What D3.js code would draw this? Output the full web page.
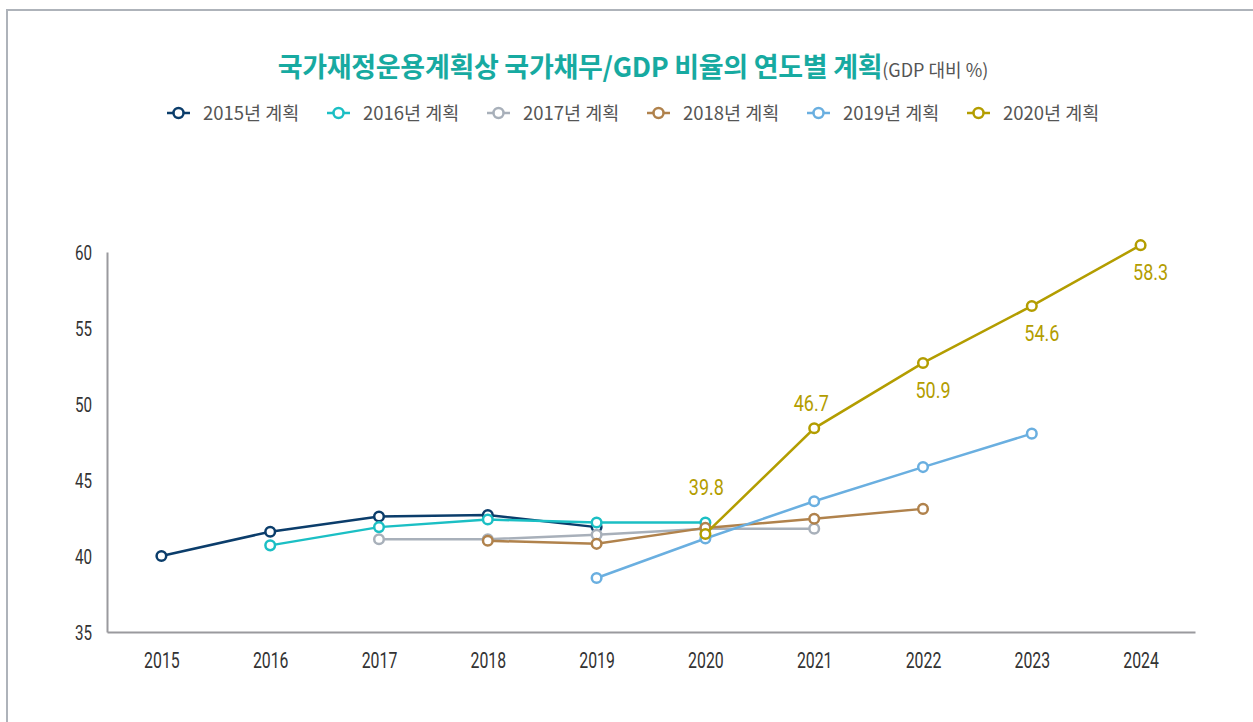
<!DOCTYPE html>
<html>
<head>
<meta charset="utf-8">
<script src="https://cdn.jsdelivr.net/npm/d3@7"></script>
<style>
  body { margin: 0; background: #fff; }
  svg { display: block; }
  .tick line { display: none; }
</style>
</head>
<body>
<div id="chart"></div>
<script>
// years on the x axis
var years = ["2015", "2016", "2017", "2018", "2019", "2020", "2021", "2022", "2023", "2024"];
var yTicks = [35, 40, 45, 50, 55, 60];

// series names (legend) and plotted values
var seriesNames = ["2015년 계획", "2016년 계획", "2017년 계획", "2018년 계획", "2019년 계획", "2020년 계획"];
var plan2015 = [["2015", 40.0], ["2016", 41.6], ["2017", 42.6], ["2018", 42.7], ["2019", 41.9]];
var plan2016 = [["2016", 40.7], ["2017", 41.9], ["2018", 42.4], ["2019", 42.2], ["2020", 42.2]];
var plan2017 = [["2017", 41.1], ["2018", 41.1], ["2019", 41.4], ["2020", 41.8], ["2021", 41.8]];
var plan2018 = [["2018", 41.0], ["2019", 40.8], ["2020", 41.85], ["2021", 42.45], ["2022", 43.1]];
var plan2019 = [["2019", 38.55], ["2020", 41.15], ["2021", 43.6], ["2022", 45.85], ["2023", 48.05]];
var plan2020 = [["2020", 41.45], ["2021", 48.4], ["2022", 52.7], ["2023", 56.45], ["2024", 60.45]];
// value labels printed on the 2020 plan
var plan2020Labels = ["39.8", "46.7", "50.9", "54.6", "58.3"];

var colors = ["#0b3d6b", "#1bbfc4", "#a8b0ba", "#b0824c", "#6aafe0", "#b39d00"];

function main() {
   drawChart();
}

function drawChart() {
   var W = 1253, H = 722;
   var margin = {top: 252, left: 107, right: 58, bottom: 90};
   var width = W - margin.left - margin.right,
       height = H - margin.top - margin.bottom;

   var svg = d3.select("#chart").append("svg")
      .attr("width", W)
      .attr("height", H);

   // card frame
   svg.append("rect")
      .attr("x", 7).attr("y", 10)
      .attr("width", 1300).attr("height", 900)
      .attr("fill", "none")
      .attr("stroke", "#aeb3ba")
      .attr("stroke-width", 2);

   // title
   var title = svg.append("text")
      .attr("x", 633).attr("y", 77)
      .attr("text-anchor", "middle")
      .style("font-family", "'Noto Sans CJK KR', sans-serif");
   title.append("tspan")
      .text("국가재정운용계획상 국가채무/GDP 비율의 연도별 계획")
      .attr("fill", "#17aaa1")
      .style("font-size", "27px")
      .style("font-weight", "bold")
      .style("letter-spacing", "-0.3px");
   title.append("tspan")
      .text("(GDP 대비 %)")
      .attr("fill", "#555")
      .style("font-size", "18px");

   //legend
   var legend = svg.append("g").attr("transform", "translate(167,113)");
   seriesNames.forEach(function(name, i) {
      var g = legend.append("g").attr("transform", "translate(" + (i * 160) + ",0)");
      g.append("line")
         .attr("x1", 0).attr("x2", 23)
         .attr("stroke", colors[i]).attr("stroke-width", 2.5);
      g.append("circle")
         .attr("cx", 11.5).attr("r", 5)
         .attr("fill", "#fff")
         .attr("stroke", colors[i]).attr("stroke-width", 2.5);
      g.append("text")
         .attr("x", 36).attr("y", 6.5)
         .text(name)
         .attr("fill", "#555")
         .style("font-family", "'Noto Sans CJK KR', sans-serif")
         .style("font-size", "18.5px");
   });

   var plot = svg.append("g")
      .attr("transform", "translate(" + margin.left + "," + margin.top + ")");

   var x = d3.scalePoint()
      .domain(years)
      .range([0, width])
      .padding(0.5);

   var y = d3.scaleLinear()
      .domain([35, 60])
      .range([height, 0]);

   var xAxis = d3.axisBottom(x).tickSize(0).tickPadding(0);
   var yAxis = d3.axisLeft(y).tickValues(yTicks).tickSize(0).tickPadding(0);

   //add the x axis
   var gx = plot.append("g")
      .attr("transform", "translate(0," + height + ")")
      .call(xAxis);
   gx.select(".domain").attr("stroke", "#9a9a9e").attr("stroke-width", 2);
   gx.selectAll("text")
      .attr("y", 0)
      .attr("dy", 0)
      .attr("transform", "translate(0,36) scale(0.72,1)")
      .attr("fill", "#333")
      .style("font-family", "Roboto, sans-serif")
      .style("font-size", "22px");

   //add the y axis
   var gy = plot.append("g").call(yAxis);
   gy.select(".domain").attr("stroke", "#9a9a9e").attr("stroke-width", 2);
   gy.selectAll("text")
      .attr("x", 0)
      .attr("dy", 0)
      .attr("transform", "translate(-15,7) scale(0.76,1)")
      .attr("fill", "#333")
      .style("font-family", "Roboto, sans-serif")
      .style("font-size", "20px");

   var line = d3.line()
      .x(function(d) { return x(d[0]); })
      .y(function(d) { return y(d[1]); });

   var allSeries = [plan2015, plan2016, plan2017, plan2018, plan2019, plan2020];

   allSeries.forEach(function(data, i) {
      plot.append("path")
         .datum(data)
         .attr("d", line)
         .attr("fill", "none")
         .attr("stroke", colors[i])
         .attr("stroke-width", 2.5);
      plot.selectAll(".dot" + i)
         .data(data)
         .enter().append("circle")
            .attr("class", "dot" + i)
            .attr("cx", function(d) { return x(d[0]); })
            .attr("cy", function(d) { return y(d[1]); })
            .attr("r", 4.8)
            .attr("fill", "#fff")
            .attr("stroke", colors[i])
            .attr("stroke-width", 2.5);
   });

   //value labels: first two above the point, rest below
   plot.selectAll(".valLabel")
      .data(plan2020)
      .enter().append("text")
         .attr("class", "valLabel")
         .attr("transform", function(d, j) {
            var dx = j == 0 ? 1 : (j == 1 ? -3 : 10);
            var dy = j == 0 ? -39 : (j == 1 ? -17 : 35);
            return "translate(" + (x(d[0]) + dx) + "," + (y(d[1]) + dy) + ") scale(0.8,1)";
         })
         .attr("text-anchor", "middle")
         .text(function(d, j) { return plan2020Labels[j]; })
         .attr("fill", colors[5])
         .style("font-family", "Roboto, sans-serif")
         .style("font-size", "22.5px");
}

main();
</script>
</body>
</html>
